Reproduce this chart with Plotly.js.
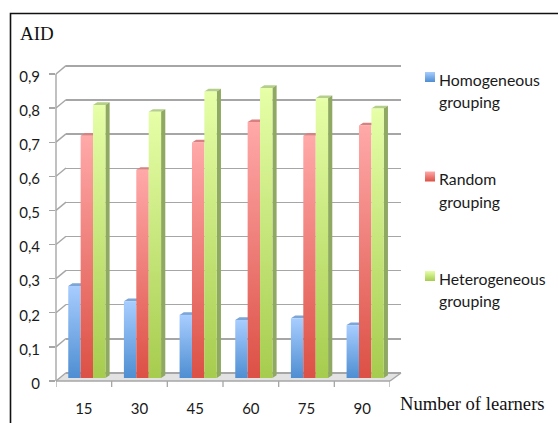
<!DOCTYPE html>
<html><head><meta charset="utf-8">
<script src="https://cdn.plot.ly/plotly-3.0.1.min.js"></script>
<style>html,body{margin:0;padding:0;background:#fff}</style></head>
<body><div id="chart" style="width:558px;height:423px"></div>
<script>
const categories = ["15","30","45","60","75","90"];
const homogeneous = [0.27,0.225,0.185,0.17,0.175,0.155];
const random = [0.71,0.61,0.69,0.75,0.71,0.74];
const heterogeneous = [0.80,0.78,0.84,0.85,0.82,0.79];
const seriesNames = ["Homogeneous<br>grouping","Random<br>grouping","Heterogeneous<br>grouping"];
const yTicks = [0,0.1,0.2,0.3,0.4,0.5,0.6,0.7,0.8,0.9];
const yLabels = ["0","0,1","0,2","0,3","0,4","0,5","0,6","0,7","0,8","0,9"];

const W=558,H=423, TOP=50, BOT=395, PPU=341.2;
const px=x=>x/W, py=y=>1-y/H;
const dom=(a,b)=>[a/W,b/W];
const yDom=[1-BOT/H,1-TOP/H];
const yRange=zero=>[(zero-BOT)/PPU,(zero-TOP)/PPU];
const xRange=[-0.5,5.5];
const GRID='#a6a6a6';
const hidden={visible:false,fixedrange:true};

const sets=[homogeneous,random,heterogeneous];
const traces=sets.map((v,i)=>({type:'bar',x:categories.map((_,k)=>k),y:v,name:seriesNames[i],
  xaxis:'x2',yaxis:'y2',marker:{color:['#6fa5e6','#e8736c','#bfe070'][i],line:{width:0}},legendgroup:'g'+i,hoverinfo:'skip'}));
traces.unshift({type:'scatter',x:[0],y:[0],xaxis:'x',yaxis:'y',mode:'none',showlegend:false,hoverinfo:'skip'});
traces.push({type:'scatter',x:[0],y:[0],xaxis:'x3',yaxis:'y3',mode:'none',showlegend:false,hoverinfo:'skip'});

const shapes=[];
const line=(x0,y0,x1,y1,c=GRID,w=1.4)=>shapes.push({type:'line',xref:'paper',yref:'paper',x0:px(x0),y0:py(y0),x1:px(x1),y1:py(y1),line:{color:c,width:w},layer:'below'});
const F0=381, B0=373;
shapes.push({type:'path',xref:'paper',yref:'paper',layer:'below',line:{width:0},fillcolor:'#e2e2e2',
  path:`M${px(56)} ${py(F0)} L${px(390)} ${py(F0)} L${px(401)} ${py(B0)} L${px(66)} ${py(B0)} Z`});
yTicks.forEach(t=>{const f=F0-t*PPU; line(56,f,66,f-8.3);});
line(56,F0,390,F0); line(390,F0,401,B0);
line(56,F0,56,F0-0.9*PPU);
for(let k=0;k<=categories.length;k++)
  shapes.push({type:'line',xref:'x3',yref:'paper',x0:k-0.5,x1:k-0.5,y0:py(F0),y1:py(F0+6),line:{color:GRID,width:1.3},layer:'below'});

const unit=55.67, bw=0.2226, dX=4.2/unit, dY=2.7/PPU;
const topCols=['#7da5d6','#d98080','#b5cf8a'];
const poly=(pts,fill)=>shapes.push({type:'path',xref:'x2',yref:'y2',layer:'between',line:{width:0},fillcolor:fill,
  path:pts.map((p,i)=>(i?'L':'M')+p[0]+' '+p[1]).join(' ')+' Z'});
sets.forEach((v,i)=>v.forEach((val,k)=>{
  const l=k+(i-1.5)*bw, r=l+bw;
  poly([[l,val],[r,val],[r+dX,val+dY],[l+dX,val+dY]],topCols[i]);
  if(i===2) poly([[r,0],[r+dX,dY],[r+dX,val+dY],[r,val]],'#8fa862');
}));

const layout={width:W,height:H,margin:{l:0,r:0,t:0,b:0,pad:0,autoexpand:false},paper_bgcolor:'#fff',plot_bgcolor:'rgba(0,0,0,0)',
 barmode:'group',bargap:1-3*bw,bargroupgap:0,separators:',.',showlegend:true,
 font:{family:'Lato, "Open Sans", sans-serif',color:'#1a1a1a',size:15},
 xaxis:{domain:dom(66,401),range:xRange,anchor:'y',visible:false,fixedrange:true},
 yaxis:{domain:yDom,range:yRange(B0),anchor:'x',showgrid:true,gridcolor:GRID,gridwidth:1.4,tickvals:yTicks,showticklabels:false,ticks:'',showline:false,zeroline:false,fixedrange:true},
 xaxis2:{domain:dom(59,393),range:xRange,anchor:'y2',...hidden},
 yaxis2:{domain:yDom,range:yRange(378),anchor:'x2',...hidden},
 xaxis3:{domain:dom(56,390),range:xRange,anchor:'y3',fixedrange:true,showgrid:false,zeroline:false,showline:false,
   tickmode:'array',tickvals:[0,1,2,3,4,5],ticktext:categories,ticks:'',tickfont:{size:15,color:'#1a1a1a'},side:'bottom'},
 yaxis3:{domain:yDom,range:yRange(F0),anchor:'x3',fixedrange:true,showgrid:false,zeroline:false,showline:false,
   tickvals:yTicks,ticktext:yLabels,ticks:'outside',ticklen:6,tickwidth:1.3,tickcolor:GRID,ticklabelstandoff:6,tickfont:{size:15,color:'#1a1a1a'}},
 legend:{x:px(418),y:py(66),xanchor:'left',yanchor:'top',font:{size:15.8,color:'#1a1a1a'},traceorder:'grouped',tracegroupgap:58,
   itemwidth:30,bgcolor:'rgba(0,0,0,0)',borderwidth:0},
 shapes,
 annotations:[
  {xref:'paper',yref:'paper',x:px(18),y:py(33),xanchor:'left',yanchor:'middle',text:'AID',showarrow:false,font:{family:'"Liberation Serif",serif',size:19,color:'#111'}},
  {xref:'paper',yref:'paper',x:px(398),y:py(403),xanchor:'left',yanchor:'middle',text:'Number of learners',showarrow:false,font:{family:'"Liberation Serif",serif',size:18.6,color:'#111'}}
 ]};
shapes.push({type:'path',xref:'paper',yref:'paper',layer:'above',fillcolor:'rgba(0,0,0,0)',line:{color:'#111',width:1.6},
  path:`M${px(10.5)} ${py(H+2)} L${px(10.5)} ${py(13.5)} L${px(W+2)} ${py(13.5)}`});

Plotly.newPlot('chart',traces,layout,{displayModeBar:false,staticPlot:true}).then(gd=>{
  const svg=gd.querySelector('svg.main-svg');
  const ns='http://www.w3.org/2000/svg';
  const defs=svg.querySelector('defs')||svg.insertBefore(document.createElementNS(ns,'defs'),svg.firstChild);
  const grads=[['#a8cdff','#4e8ed2'],['#ffa9a9','#dc5045'],['#e6ffa8','#a6cc4e']];
  grads.forEach((g,i)=>{
    const lg=document.createElementNS(ns,'linearGradient');
    lg.setAttribute('id','barGrad'+i);lg.setAttribute('x1','0');lg.setAttribute('y1','0');lg.setAttribute('x2','0');lg.setAttribute('y2','1');
    g.forEach((c,j)=>{const s=document.createElementNS(ns,'stop');s.setAttribute('offset',j);s.setAttribute('stop-color',c);lg.appendChild(s);});
    defs.appendChild(lg);
  });
  gd.querySelectorAll('.barlayer .trace').forEach((t,i)=>t.querySelectorAll('path').forEach(p=>p.style.fill=`url(#barGrad${i})`));
  // tick labels sit slightly below their ticks in the reference
  gd.querySelectorAll('.y3tick text').forEach(t=>t.setAttribute('y',parseFloat(t.getAttribute('y'))+2.5));
  gd.querySelectorAll('.x3tick text').forEach(t=>t.setAttribute('y',parseFloat(t.getAttribute('y'))+3));
  const lineCentre=[79,178.5,278];
  gd.querySelectorAll('.legend .traces').forEach((t,i)=>{
    const text=t.querySelector('text.legendtext');
    const spans=text.querySelectorAll('tspan.line');
    if(spans[1]) spans[1].setAttribute('y',parseFloat(spans[1].getAttribute('y'))+2);
    const r=(spans[0]||text).getBoundingClientRect();
    text.setAttribute('transform',`translate(${439-r.left},${lineCentre[i]-(r.top+r.bottom)/2})`);
    const pts=t.querySelector('.legendpoints');
    const mark=pts.querySelector('path');
    mark.style.fill=`url(#barGrad${i})`;
    const m=mark.getBoundingClientRect();
    mark.setAttribute('transform',`scale(${10/m.width})`);
    const m2=mark.getBoundingClientRect();
    pts.setAttribute('transform',`translate(${425-m2.left},${lineCentre[i]-7-m2.top})`);
  });
});
</script></body></html>
